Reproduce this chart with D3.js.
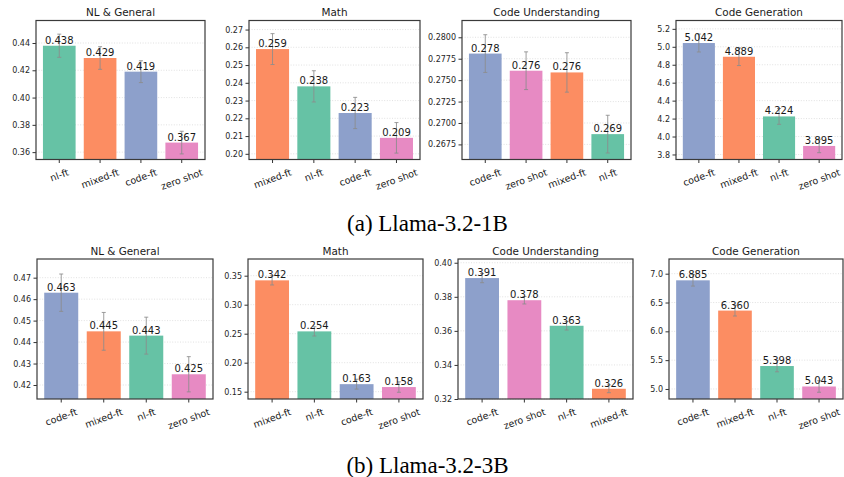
<!DOCTYPE html>
<html>
<head>
<meta charset="utf-8">
<script src="https://cdn.jsdelivr.net/npm/d3@7"></script>
<style>
  html, body { margin: 0; padding: 0; background: #fff; }
  svg { display: block; }
</style>
</head>
<body>
<svg id="chart" width="844" height="477"></svg>
<script>
// ---------------- DATA ----------------
const titles = ["NL & General", "Math", "Code Understanding", "Code Generation"];
const captions = ["(a) Llama-3.2-1B", "(b) Llama-3.2-3B"];

const categories1B = [
  ["nl-ft", "mixed-ft", "code-ft", "zero shot"],
  ["mixed-ft", "nl-ft", "code-ft", "zero shot"],
  ["code-ft", "zero shot", "mixed-ft", "nl-ft"],
  ["code-ft", "mixed-ft", "nl-ft", "zero shot"]
];
const values1B = [
  [0.438, 0.429, 0.419, 0.367],
  [0.259, 0.238, 0.223, 0.209],
  [0.2781, 0.2761, 0.2759, 0.2687],
  [5.042, 4.889, 4.224, 3.895]
];
const errors1B = [
  [0.0085, 0.0083, 0.0080, 0.0083],
  [0.0087, 0.0088, 0.0088, 0.0086],
  [0.0022, 0.0022, 0.0023, 0.0022],
  [0.100, 0.098, 0.088, 0.075]
];
const yDomains1B = [[0.3546, 0.4565], [0.1968, 0.2751], [0.26574, 0.28196], [3.744, 5.293]];
const yTicks1B = [
  [0.36, 0.38, 0.40, 0.42, 0.44],
  [0.20, 0.21, 0.22, 0.23, 0.24, 0.25, 0.26, 0.27],
  [0.2675, 0.2700, 0.2725, 0.2750, 0.2775, 0.2800],
  [3.8, 4.0, 4.2, 4.4, 4.6, 4.8, 5.0, 5.2]
];
const yTickFormats1B = [".2f", ".2f", ".4f", ".1f"];

const categories3B = [
  ["code-ft", "mixed-ft", "nl-ft", "zero shot"],
  ["mixed-ft", "nl-ft", "code-ft", "zero shot"],
  ["code-ft", "zero shot", "nl-ft", "mixed-ft"],
  ["code-ft", "mixed-ft", "nl-ft", "zero shot"]
];
const values3B = [
  [0.463, 0.445, 0.443, 0.425],
  [0.342, 0.254, 0.163, 0.158],
  [0.391, 0.378, 0.363, 0.326],
  [6.885, 6.360, 5.398, 5.043]
];
const errors3B = [
  [0.0087, 0.0088, 0.0086, 0.0082],
  [0.0080, 0.0080, 0.0085, 0.0090],
  [0.0027, 0.0022, 0.0025, 0.0023],
  [0.100, 0.094, 0.100, 0.100]
];
const yDomains3B = [[0.41348, 0.4787], [0.1374, 0.3788], [0.3200, 0.4022], [4.826, 7.255]];
const yTicks3B = [
  [0.42, 0.43, 0.44, 0.45, 0.46, 0.47],
  [0.15, 0.20, 0.25, 0.30, 0.35],
  [0.32, 0.34, 0.36, 0.38, 0.40],
  [5.0, 5.5, 6.0, 6.5, 7.0]
];
const yTickFormats3B = [".2f", ".2f", ".2f", ".1f"];

const methodNames = ["code-ft", "mixed-ft", "nl-ft", "zero shot"];
const methodColors = ["#8da0cb", "#fc8d62", "#66c2a5", "#e78ac3"];

// ---------------- LAYOUT ----------------
const rows = [
  { cats: categories1B, vals: values1B, errs: errors1B, doms: yDomains1B, ticks: yTicks1B, fmts: yTickFormats1B,
    top: 20.5, bottom: 159.5, xs: [[36, 205], [249, 420], [462, 631], [676, 842]],
    caption: captions[0], capY: 231 },
  { cats: categories3B, vals: values3B, errs: errors3B, doms: yDomains3B, ticks: yTicks3B, fmts: yTickFormats3B,
    top: 259, bottom: 399, xs: [[37, 213], [248, 423], [458, 633], [669, 843]],
    caption: captions[1], capY: 472.5 }
];

const color = d3.scaleOrdinal().domain(methodNames).range(methodColors);
const svg = d3.select("#chart");
const FONT = "'DejaVu Sans', sans-serif";
const rot = 20 * Math.PI / 180;

rows.forEach(row => {
  row.xs.forEach((xr, p) => {
    const cats = row.cats[p], vals = row.vals[p], errs = row.errs[p];
    const x = d3.scaleBand().domain(cats).range(xr).paddingInner(0.2).paddingOuter(0.17);
    const y = d3.scaleLinear().domain(row.doms[p]).range([row.bottom, row.top]);
    const g = svg.append("g");

    // clip
    const clipId = `clip-${row.top}-${p}`;
    svg.append("clipPath").attr("id", clipId).append("rect")
      .attr("x", xr[0]).attr("y", row.top).attr("width", xr[1] - xr[0]).attr("height", row.bottom - row.top);

    // grid
    g.append("g").selectAll("line").data(row.ticks[p]).join("line")
      .attr("x1", xr[0]).attr("x2", xr[1])
      .attr("y1", d => y(d)).attr("y2", d => y(d))
      .attr("stroke", "#d9d9d9").attr("stroke-width", 0.8).attr("stroke-dasharray", "1,1.6");

    // bars
    const data = cats.map((c, i) => ({ c, v: vals[i], e: errs[i] }));
    g.append("g").attr("clip-path", `url(#${clipId})`).selectAll("rect").data(data).join("rect")
      .attr("x", d => x(d.c)).attr("width", x.bandwidth())
      .attr("y", d => y(d.v)).attr("height", d => row.bottom - y(d.v))
      .attr("fill", d => color(d.c));

    // error bars
    const eb = g.append("g").attr("clip-path", `url(#${clipId})`)
      .attr("stroke", "#8c8c8c").attr("stroke-width", 1).attr("stroke-opacity", 0.85);
    data.forEach(d => {
      const cx = x(d.c) + x.bandwidth() / 2;
      eb.append("line").attr("x1", cx).attr("x2", cx).attr("y1", y(d.v - d.e)).attr("y2", y(d.v + d.e));
      [d.v - d.e, d.v + d.e].forEach(v => {
        eb.append("line").attr("x1", cx - 2).attr("x2", cx + 2).attr("y1", y(v)).attr("y2", y(v));
      });
    });

    // value labels
    g.append("g").selectAll("text").data(data).join("text")
      .attr("x", d => x(d.c) + x.bandwidth() / 2)
      .attr("y", d => y(d.v) - 2)
      .attr("text-anchor", "middle")
      .attr("font-family", FONT).attr("font-size", 10).attr("fill", "#1a1a1a")
      .text(d => d3.format(".3f")(d.v));

    // y axis
    const yAxis = d3.axisLeft(y).tickValues(row.ticks[p]).tickFormat(d3.format(row.fmts[p]))
      .tickSize(3.5).tickPadding(2.5);
    const ya = g.append("g").attr("transform", `translate(${xr[0]},0)`).call(yAxis);
    ya.select(".domain").remove();
    ya.selectAll("line").attr("stroke", "#333");
    ya.selectAll("text").attr("font-family", FONT).attr("font-size", 8).attr("fill", "#262626");

    // x axis
    const xAxis = d3.axisBottom(x).tickSize(3.5).tickFormat("");
    const xa = g.append("g").attr("transform", `translate(0,${row.bottom})`).call(xAxis);
    xa.select(".domain").remove();
    xa.selectAll("line").attr("stroke", "#333");

    // rotated x labels
    cats.forEach(c => {
      const cx = x(c) + x.bandwidth() / 2;
      const t = g.append("text")
        .attr("font-family", FONT).attr("font-size", 9.5).attr("fill", "#1a1a1a")
        .attr("text-anchor", "middle").attr("dominant-baseline", "central")
        .text(c);
      const L = t.node().getComputedTextLength();
      const h = 9.5 * 1.16;
      const bh = L * Math.sin(rot) + h * Math.cos(rot);
      t.attr("transform", `translate(${cx},${row.bottom + 7 + bh / 2}) rotate(-20)`);
    });

    // frame
    g.append("rect").attr("x", xr[0]).attr("y", row.top)
      .attr("width", xr[1] - xr[0]).attr("height", row.bottom - row.top)
      .attr("fill", "none").attr("stroke", "#3a3a3a").attr("stroke-width", 1.2);

    // title
    g.append("text").attr("x", (xr[0] + xr[1]) / 2).attr("y", row.top - 4.5)
      .attr("text-anchor", "middle").attr("font-family", FONT).attr("font-size", 10.4)
      .attr("fill", "#1a1a1a").text(titles[p]);
  });

  svg.append("text").attr("x", 427.5).attr("y", row.capY)
    .attr("text-anchor", "middle").attr("font-family", "'Liberation Serif', 'Times New Roman', serif")
    .attr("font-size", 23).attr("fill", "#000").text(row.caption);
});
</script>
</body>
</html>
